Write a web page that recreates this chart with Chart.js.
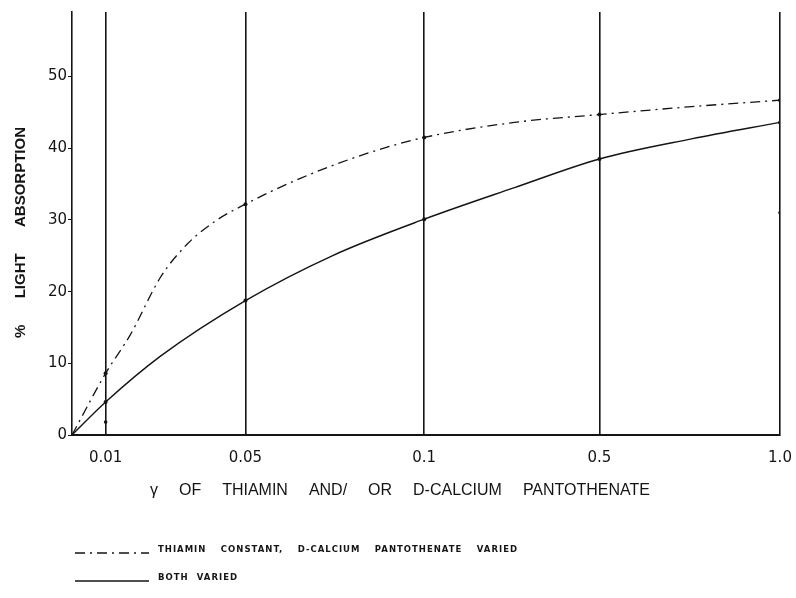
<!DOCTYPE html>
<html>
<head>
<meta charset="utf-8">
<script src="https://cdn.jsdelivr.net/npm/chart.js@4"></script>
<style>
  html, body { margin: 0; padding: 0; background: #fff; }
  #wrap { width: 796px; height: 598px; }
</style>
</head>
<body>
<div id="wrap"><canvas id="chart" width="796" height="598"></canvas></div>
<script>
// x categories are drawn nearly evenly spaced (except the first), so each label has an axis position
const xLabels = ['0.01', '0.05', '0.1', '0.5', '1.0'];
const xPos = [0.19, 0.98, 1.99, 2.98, 4];
const yTicks = [0, 10, 20, 30, 40, 50];

// dashed curve: thiamin constant, D-calcium pantothenate varied
const thiaminX = [0, 0.19, 0.33, 0.5, 0.65, 0.82, 0.98, 1.29, 1.67, 1.99, 2.5, 2.98, 3.5, 4];
const thiaminY = [0, 8.6, 14, 22, 26.6, 30, 32.2, 35.8, 39.3, 41.5, 43.6, 44.7, 45.8, 46.7];

// solid curve: both varied
const bothX = [0, 0.19, 0.5, 0.98, 1.47, 1.99, 2.5, 2.98, 3.5, 4];
const bothY = [0, 4.6, 11, 18.75, 25, 30.1, 34.5, 38.5, 41.3, 43.6];

// stray plotted dots
const dotX = [0.19, 4];
const dotY = [1.8, 31];

const ink = '#141414';

function toPoints(xs, ys) {
    return xs.map((x, i) => ({ x: x, y: ys[i] }));
}

// only the measured concentrations get a dot
function markerRadius(ctx) {
    const p = ctx.raw;
    return p && xPos.includes(p.x) ? 2 : 0;
}

// spread the words of a line of lettering over a given width
function spreadText(c, text, x, y, width) {
    c.wordSpacing = '0px';
    const w = c.measureText(text).width;
    const gaps = text.split(' ').length - 1;
    c.wordSpacing = Math.max(0, (width - w) / gaps) + 'px';
    c.fillText(text, x, y);
    c.wordSpacing = '0px';
}

// titles and the hand-lettered legend under the axis
const lettering = {
    id: 'lettering',
    afterDraw(chart) {
        const c = chart.ctx;
        c.save();
        c.fillStyle = ink;
        c.textAlign = 'left';

        // y title, reading bottom to top
        c.save();
        c.translate(21, 338);
        c.rotate(-Math.PI / 2);
        c.font = 'bold 15px "Liberation Sans", Arial, sans-serif';
        c.textBaseline = 'middle';
        spreadText(c, '% LIGHT ABSORPTION', 0, 0, 211);
        c.restore();

        // x title
        c.font = '16px "Liberation Sans", Arial, sans-serif';
        c.textBaseline = 'middle';
        spreadText(c, 'γ OF THIAMIN AND/ OR D-CALCIUM PANTOTHENATE', 150, 491, 500);

        // legend
        const ds = chart.data.datasets;
        const rows = [
            { d: ds[0], y: 550, w: 360, text: 'THIAMIN CONSTANT, D-CALCIUM PANTOTHENATE VARIED' },
            { d: ds[1], y: 578, w: 80, text: 'BOTH VARIED' }
        ];
        rows.forEach(r => {
            c.strokeStyle = ink;
            c.lineWidth = 1.5;
            c.setLineDash(r.d.borderDash || []);
            c.beginPath();
            c.moveTo(75, r.y + 3);
            c.lineTo(149, r.y + 3);
            c.stroke();
            c.setLineDash([]);
            c.font = 'bold 8.5px "DejaVu Sans", sans-serif';
            c.letterSpacing = '1px';
            c.textBaseline = 'middle';
            spreadText(c, r.text, 158, r.y, r.w);
            c.letterSpacing = '0px';
        });
        c.restore();
    }
};

const config = {
    type: 'line',
    data: {
        datasets: [
            {
                label: 'THIAMIN CONSTANT, D-CALCIUM PANTOTHENATE VARIED',
                data: toPoints(thiaminX, thiaminY),
                borderColor: ink,
                backgroundColor: ink,
                borderWidth: 1.3,
                borderDash: [10, 5, 2, 5],
                cubicInterpolationMode: 'monotone',
                pointRadius: markerRadius,
                pointBorderWidth: 0,
                fill: false
            },
            {
                label: 'BOTH VARIED',
                data: toPoints(bothX, bothY),
                borderColor: ink,
                backgroundColor: ink,
                borderWidth: 1.4,
                cubicInterpolationMode: 'monotone',
                pointRadius: markerRadius,
                pointBorderWidth: 0,
                fill: false
            },
            {
                label: 'dots',
                data: toPoints(dotX, dotY),
                showLine: false,
                pointRadius: 1.8,
                pointBorderWidth: 0,
                backgroundColor: ink,
                borderColor: ink
            }
        ]
    },
    options: {
        responsive: false,
        animation: false,
        layout: {
            padding: { top: 12, right: 16, bottom: 0, left: 0 }
        },
        plugins: {
            legend: { display: false },
            tooltip: { enabled: false }
        },
        scales: {
            x: {
                type: 'linear',
                min: 0,
                max: 4,
                afterBuildTicks: function (scale) {
                    scale.ticks = xPos.map(v => ({ value: v }));
                },
                afterFit: function (scale) {
                    scale.height = 598 - 435;
                    // the "1.0" label may hang past the frame, as in the drawing
                    scale.paddingRight = 0;
                },
                grid: {
                    color: ink,
                    lineWidth: 1.6,
                    drawTicks: false
                },
                border: { display: true, color: ink, width: 2 },
                ticks: {
                    color: ink,
                    padding: 14,
                    maxRotation: 0,
                    font: { size: 15, family: '"DejaVu Sans", sans-serif' },
                    callback: function (value) {
                        const i = xPos.indexOf(value);
                        return i >= 0 ? xLabels[i] : '';
                    }
                }
            },
            y: {
                min: 0,
                max: 59,
                afterBuildTicks: function (scale) {
                    scale.ticks = yTicks.map(v => ({ value: v }));
                },
                afterFit: function (scale) {
                    scale.width = 72;
                },
                grid: {
                    drawOnChartArea: false,
                    drawTicks: true,
                    tickLength: 4,
                    color: ink,
                    lineWidth: 1
                },
                border: { display: true, color: ink, width: 1.6 },
                ticks: {
                    color: ink,
                    padding: 1,
                    font: { size: 15, family: '"DejaVu Sans", sans-serif' }
                }
            }
        }
    },
    plugins: [lettering]
};

new Chart(document.getElementById('chart'), config);
</script>
</body>
</html>
